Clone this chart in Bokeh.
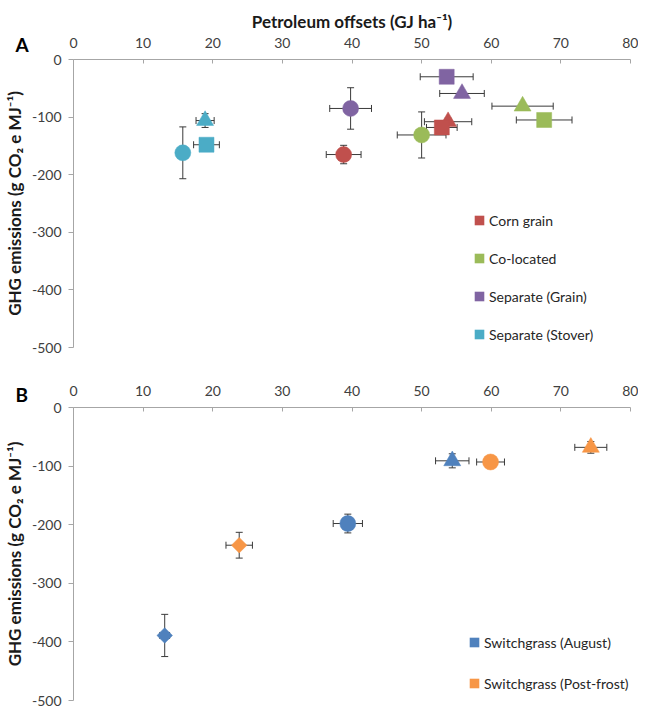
import math
from bokeh.plotting import figure
from bokeh.models import (Range1d, Whisker, ColumnDataSource, Legend, LegendItem, TeeHead, Title)
from bokeh.layouts import column
from bokeh.embed import file_html
from bokeh.resources import INLINE

# ---------------- data ----------------
x_ticks = [0, 10, 20, 30, 40, 50, 60, 70, 80]
y_ticks = [-500, -400, -300, -200, -100, 0]

# Panel A (markers in order: circle, triangle, square)
a_markers = ["circle", "triangle", "square"]

corn_x = [38.8, 53.8, 52.9]
corn_y = [-165, -108, -118]
corn_xerr = [2.5, 3.4, 2.2]
corn_yerr = [16, 6, 0]

coloc_x = [50.0, 64.5, 67.6]
coloc_y = [-131, -81, -105]
coloc_xerr = [3.5, 4.4, 4.0]
coloc_yerr = [40, 3, 0]

sepgrain_x = [39.8, 55.8, 53.6]
sepgrain_y = [-85, -59, -30]
sepgrain_xerr = [3.0, 3.2, 3.8]
sepgrain_yerr = [36, 3, 0]

sepstover_x = [15.7, 18.9, 19.1]
sepstover_y = [-162, -106, -148]
sepstover_xerr = [0.5, 1.3, 1.85]
sepstover_yerr = [45, 12, 0]

# Panel B (markers in order: diamond, circle, triangle)
b_markers = ["diamond", "circle", "triangle"]

aug_x = [13.1, 39.4, 54.4]
aug_y = [-389, -198, -91]
aug_xerr = [0.7, 2.1, 2.4]
aug_yerr = [36, 16, 12]

post_x = [23.8, 59.9, 74.3]
post_y = [-235, -93, -68]
post_xerr = [1.9, 2.0, 2.3]
post_yerr = [22, 0, 10]

series_a = [
    ("Corn grain", "#C0504D", corn_x, corn_y, corn_xerr, corn_yerr),
    ("Co-located", "#9BBB59", coloc_x, coloc_y, coloc_xerr, coloc_yerr),
    ("Separate (Grain)", "#8064A2", sepgrain_x, sepgrain_y, sepgrain_xerr, sepgrain_yerr),
    ("Separate (Stover)", "#4BACC6", sepstover_x, sepstover_y, sepstover_xerr, sepstover_yerr),
]
series_b = [
    ("Switchgrass (August)", "#4F81BD", aug_x, aug_y, aug_xerr, aug_yerr),
    ("Switchgrass (Post-frost)", "#F79646", post_x, post_y, post_xerr, post_yerr),
]

x_title = "Petroleum offsets (GJ ha\u207b\u00b9)"
y_title = "GHG emissions (g CO\u2082 e MJ\u207b\u00b9)"

# ---------------- style ----------------
FONT = "Lato"
AXIS_GRAY = "#A6A6A6"
TXT = "#404040"
EB = "#3a3a3a"
MARKER_STYLE = {
    "circle": ("circle", 16, 0.0),
    "square": ("square", 15, 0.0),
    "triangle": ("triangle", 17, 0.0),
    "diamond": ("square", 11, math.pi / 4),
}
NAN = float("nan")


def add_whiskers(p, xs, ys, xerr, yerr):
    hx = [(x, y, e) for x, y, e in zip(xs, ys, xerr) if e > 0]
    if hx:
        src = ColumnDataSource(dict(base=[h[1] for h in hx],
                                    lower=[h[0] - h[2] for h in hx],
                                    upper=[h[0] + h[2] for h in hx]))
        p.add_layout(Whisker(source=src, base="base", lower="lower", upper="upper",
                             dimension="width", line_color=EB, line_width=1,
                             upper_head=TeeHead(size=7, line_color=EB, line_width=1),
                             lower_head=TeeHead(size=7, line_color=EB, line_width=1)))
    vy = [(x, y, e) for x, y, e in zip(xs, ys, yerr) if e > 0]
    if vy:
        src = ColumnDataSource(dict(base=[v[0] for v in vy],
                                    lower=[v[1] - v[2] for v in vy],
                                    upper=[v[1] + v[2] for v in vy]))
        p.add_layout(Whisker(source=src, base="base", lower="lower", upper="upper",
                             dimension="height", line_color=EB, line_width=1,
                             upper_head=TeeHead(size=7, line_color=EB, line_width=1),
                             lower_head=TeeHead(size=7, line_color=EB, line_width=1)))


def style_letter(t, standoff):
    t.align = "left"
    t.offset = -58
    t.standoff = standoff
    t.text_font = FONT
    t.text_font_size = "19px"
    t.text_font_style = "bold"
    t.text_color = "black"


def make_panel(series, markers, letter, border_top, frame_h, border_bottom,
               with_xtitle, legend_loc, legend_spacing, letter_standoff):
    p = figure(frame_width=557, frame_height=frame_h,
               x_range=Range1d(0, 80), y_range=Range1d(-500, 0),
               x_axis_location="above", output_backend="svg", toolbar_location=None,
               min_border_left=67, min_border_right=8,
               min_border_top=border_top, min_border_bottom=border_bottom,
               title=(x_title if with_xtitle else letter), title_location="above")
    p.grid.visible = False
    p.outline_line_color = None
    p.background_fill_color = "white"
    p.border_fill_color = "white"

    p.xaxis.ticker = x_ticks
    p.yaxis.ticker = y_ticks
    p.yaxis.major_label_overrides = {t: str(t) for t in y_ticks}
    for ax in (p.xaxis, p.yaxis):
        ax.axis_line_color = AXIS_GRAY
        ax.major_tick_line_color = AXIS_GRAY
        ax.minor_tick_line_color = None
        ax.major_label_text_font = FONT
        ax.major_label_text_font_size = "14px"
        ax.major_label_text_color = TXT
        ax.axis_label_text_font = FONT
        ax.axis_label_text_font_size = "17px"
        ax.axis_label_text_font_style = "bold"
        ax.axis_label_text_color = "#1a1a1a"
    p.xaxis.major_tick_in = 4
    p.xaxis.major_tick_out = 0
    p.xaxis.major_label_standoff = 12
    p.yaxis.major_tick_in = 0
    p.yaxis.major_tick_out = 5
    p.yaxis.major_label_standoff = 7
    p.yaxis.axis_label = y_title
    p.yaxis.axis_label_standoff = 4

    items = []
    for name, color, xs, ys, xerr, yerr in series:
        add_whiskers(p, xs, ys, xerr, yerr)
        src = ColumnDataSource(dict(
            x=xs, y=ys,
            marker=[MARKER_STYLE[m][0] for m in markers],
            size=[MARKER_STYLE[m][1] for m in markers],
            angle=[MARKER_STYLE[m][2] for m in markers]))
        p.scatter(x="x", y="y", marker="marker", size="size", angle="angle",
                  source=src, fill_color=color, line_color=color, line_width=0.5)
        dummy = p.quad(left=[NAN], right=[NAN], top=[NAN], bottom=[NAN],
                       fill_color=color, line_color=None)
        items.append(LegendItem(label=name, renderers=[dummy]))

    legend = Legend(items=items, location=legend_loc, padding=0, margin=0,
                    spacing=legend_spacing, glyph_width=12, glyph_height=12,
                    label_height=20, label_standoff=4,
                    label_text_font=FONT, label_text_font_size="14px",
                    label_text_color="#262626",
                    border_line_color=None, background_fill_alpha=0)
    p.add_layout(legend)

    if with_xtitle:
        lt = Title(text=letter)
        style_letter(lt, letter_standoff)
        p.add_layout(lt, "above")
        p.title.align = "center"
        p.title.standoff = 6
        p.title.text_font = FONT
        p.title.text_font_size = "17px"
        p.title.text_font_style = "bold"
        p.title.text_color = "#1a1a1a"
    else:
        style_letter(p.title, letter_standoff)
    return p


pa = make_panel(series_a, a_markers, "A", 59, 288, 10, True, (400, 3), 18, -43)
pb = make_panel(series_b, b_markers, "B", 50, 293, 8, False, (395, 7), 21, -46)

layout = column(pa, pb, spacing=0)
open("out.html", "w").write(file_html(layout, INLINE))
